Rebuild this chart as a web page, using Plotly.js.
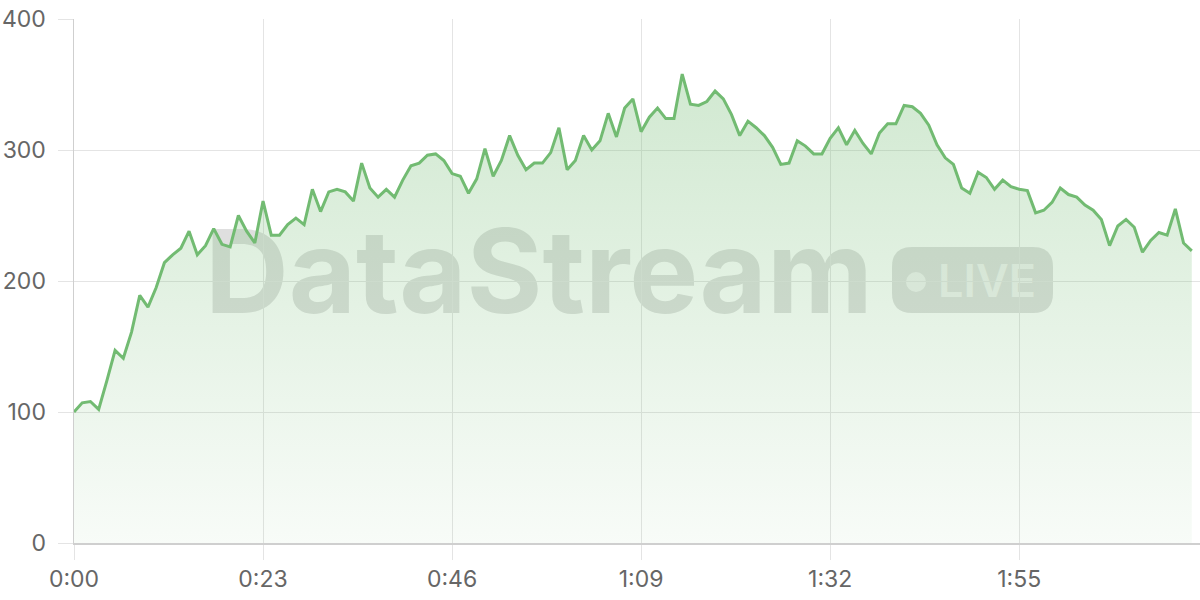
<!DOCTYPE html>
<html>
<head>
<meta charset="utf-8">
<script src="https://cdn.plot.ly/plotly-3.0.1.min.js"></script>
<style>
  html, body { margin: 0; padding: 0; background: #ffffff; }
  #chart { width: 1200px; height: 600px; }
</style>
</head>
<body>
<div id="chart"></div>
<script>
// ---- data (one sample per second) ----
const values = [
  100, 107, 108, 102, 124, 147, 141, 161, 189, 180,
  195, 214, 220, 225, 238, 220, 227, 240, 228, 226,
  250, 238, 229, 261, 235, 235, 243, 248, 243, 270,
  253, 268, 270, 268, 261, 290, 271, 264, 270, 264,
  277, 288, 290, 296, 297, 292, 282, 280, 267, 278,
  301, 280, 292, 311, 296, 285, 290, 290, 298, 317,
  285, 292, 311, 300, 307, 328, 310, 332, 339, 314,
  325, 332, 324, 324, 358, 335, 334, 337, 345, 339,
  327, 311, 322, 317, 311, 302, 289, 290, 307, 303,
  297, 297, 309, 317, 304, 315, 305, 297, 313, 320,
  320, 334, 333, 328, 319, 304, 294, 289, 271, 267,
  283, 279, 270, 277, 272, 270, 269, 252, 254, 260,
  271, 266, 264, 258, 254, 247, 227, 242, 247, 241,
  222, 231, 237, 235, 255, 229, 223
];
const seconds = values.map((_, i) => i);

const xTickVals = [0, 23, 46, 69, 92, 115];
const xTickText = ["0:00", "0:23", "0:46", "1:09", "1:32", "1:55"];
const yTickVals = [0, 100, 200, 300, 400];

const watermarkText = "DataStream";
const badgeText = "LIVE";

// ---- layout helpers (pixel -> paper) ----
const M = { l: 74, r: 0, t: 19, b: 57 };
const PW = 1200 - M.l - M.r, PH = 600 - M.t - M.b;
const px = v => (v - M.l) / PW;
const py = v => (600 - M.b - v) / PH;

const wmColor = "rgba(120,120,120,0.24)";
const badgeTextColor = "rgba(255,255,255,0.6)";

// rounded pill path in paper coords
function pill(x0p, y0p, x1p, y1p, rpx) {
  const x0 = px(x0p), x1 = px(x1p), yb = py(y1p), yt = py(y0p);
  const rx = rpx / PW, ry = rpx / PH;
  return `M ${x0 + rx},${yb} L ${x1 - rx},${yb} Q ${x1},${yb} ${x1},${yb + ry} ` +
         `L ${x1},${yt - ry} Q ${x1},${yt} ${x1 - rx},${yt} L ${x0 + rx},${yt} ` +
         `Q ${x0},${yt} ${x0},${yt - ry} L ${x0},${yb + ry} Q ${x0},${yb} ${x0 + rx},${yb} Z`;
}

const trace = {
  x: seconds,
  y: values,
  type: "scatter",
  mode: "lines",
  line: { color: "rgb(114,187,114)", width: 3 },
  fill: "tozeroy",
  fillgradient: {
    type: "vertical",
    start: 0,
    stop: 400,
    colorscale: [[0, "rgba(114,187,114,0.05)"], [1, "rgba(114,187,114,0.36)"]]
  },
  hoverinfo: "skip"
};

const tickFont = { family: "Inter, 'Noto Sans', sans-serif", size: 23, color: "#666666" };

const layout = {
  width: 1200,
  height: 600,
  margin: M,
  paper_bgcolor: "#ffffff",
  plot_bgcolor: "#ffffff",
  showlegend: false,
  font: { family: "Inter, 'Noto Sans', sans-serif", color: "#666666", size: 23 },
  xaxis: {
    range: [0, 137],
    tickvals: xTickVals,
    ticktext: xTickText,
    showgrid: true,
    gridcolor: "#e4e4e4",
    gridwidth: 1,
    zeroline: false,
    showline: true,
    linecolor: "#cfcfcf",
    linewidth: 1.5,
    ticks: "outside",
    ticklen: 15,
    tickcolor: "#e4e4e4",
    tickwidth: 1,
    tickfont: tickFont,
    fixedrange: true
  },
  yaxis: {
    range: [0, 400],
    tickvals: yTickVals,
    showgrid: true,
    gridcolor: "#e4e4e4",
    gridwidth: 1,
    zeroline: false,
    showline: true,
    linecolor: "#cfcfcf",
    linewidth: 1.5,
    ticks: "outside",
    ticklen: 15,
    tickcolor: "#e4e4e4",
    tickwidth: 1,
    ticklabelstandoff: 7,
    tickfont: tickFont,
    fixedrange: true
  },
  shapes: [
    {
      type: "rect", layer: "between", xref: "paper", yref: "paper",
      x0: px(202), x1: px(890), y0: py(309), y1: py(224),
      line: { width: 0 }, fillcolor: "rgba(0,0,0,0)",
      label: {
        text: "<b>" + watermarkText + "</b>",
        textposition: "middle left",
        padding: 0,
        font: { family: "Inter, 'Noto Sans', sans-serif", size: 116, color: wmColor }
      }
    },
    {
      type: "path", layer: "between", xref: "paper", yref: "paper",
      path: pill(892, 247, 1053, 313, 20),
      line: { width: 0 }, fillcolor: wmColor
    },
    {
      type: "circle", layer: "between", xref: "paper", yref: "paper",
      x0: px(906), x1: px(926), y0: py(292), y1: py(272),
      line: { width: 0 }, fillcolor: badgeTextColor
    },
    {
      type: "rect", layer: "between", xref: "paper", yref: "paper",
      x0: px(935), x1: px(1050), y0: py(300), y1: py(258),
      line: { width: 0 }, fillcolor: "rgba(0,0,0,0)",
      label: {
        text: badgeText,
        textposition: "middle left",
        padding: 0,
        font: { family: "Inter, 'Noto Sans', sans-serif", size: 45, weight: 600, color: badgeTextColor }
      }
    }
  ]
};

Plotly.newPlot("chart", [trace], layout, { staticPlot: true, displayModeBar: false });
</script>
</body>
</html>
